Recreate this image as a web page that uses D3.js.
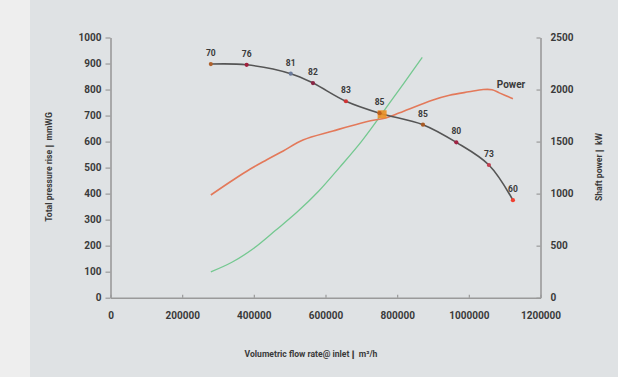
<!DOCTYPE html>
<html>
<head>
<meta charset="utf-8">
<script src="https://cdn.jsdelivr.net/npm/d3@7/dist/d3.min.js"></script>
<style>
  html, body { margin: 0; padding: 0; background: #eeeeee; }
  svg { display: block; }
  text { font-family: Roboto, "DejaVu Sans", sans-serif; fill: #3a3a3a; }
</style>
</head>
<body>
<svg id="chart" width="618" height="377"></svg>
<script>
// Fan performance: total pressure rise vs flow, with efficiency labels,
// shaft power on the secondary axis and a system resistance curve.

// Pressure curve operating points (m³/h, mmWG) with efficiency (%)
const pressureFlow = [280000, 380000, 503000, 565000, 657000, 751000, 872000, 965000, 1056000, 1123000];
const pressureVals = [898, 895, 861, 825, 755, 709, 665, 597, 510, 375];
const efficiency   = ["70", "76", "81", "82", "83", "85", "85", "80", "73", "60"];
const pointColors  = ["#b0622c", "#a0203c", "#6c7c9c", "#8a2444", "#d03434", "#c0601c", "#a85a24", "#a02444", "#c24050", "#f04030"];

// Shaft power curve (m³/h, kW)
const powerFlow = [280000, 342000, 389000, 435000, 482000, 537000, 621000, 714000, 770000, 807000, 900000, 946000, 1000000, 1040000, 1065000, 1085000, 1123000];
const powerVals = [987, 1131, 1234, 1323, 1410, 1515, 1602, 1691, 1729, 1777, 1900, 1945, 1978, 2000, 1998, 1968, 1912];

// System resistance curve (m³/h, mmWG)
const systemFlow = [280000, 340000, 400000, 460000, 520000, 580000, 640000, 700000, 760000, 820000, 870000];
const systemVals = [99, 137, 190, 258, 328, 408, 502, 600, 712, 827, 924];

// Axis ticks
const xTicks = [0, 200000, 400000, 600000, 800000, 1000000, 1200000];
const yLeftTicks = [0, 100, 200, 300, 400, 500, 600, 700, 800, 900, 1000];
const yRightTicks = [0, 500, 1000, 1500, 2000, 2500];

// Duty point (highlighted)
const dutyFlow = [758000];
const dutyPressure = [705];

const svg = d3.select("#chart");

// Panel backgrounds
svg.append("rect").attr("x", 0).attr("y", 0).attr("width", 618).attr("height", 377).attr("fill", "#eeeeee");
svg.append("rect").attr("x", 30).attr("y", 0).attr("width", 588).attr("height", 377).attr("fill", "#dfe2e4");

const x = d3.scaleLinear().domain([0, 1200000]).range([110.5, 540.5]);
const yL = d3.scaleLinear().domain([0, 1000]).range([297.7, 37.5]);
const yR = d3.scaleLinear().domain([0, 2500]).range([297.7, 37.5]);

const axisColor = "#9a9a9a";
function styleAxis(g) {
  g.selectAll(".domain").attr("stroke", axisColor).attr("stroke-width", 1.6);
  g.selectAll(".tick line").attr("stroke", axisColor).attr("stroke-width", 1.2);
  g.selectAll(".tick text").attr("fill", "#3a3a3a").attr("font-size", 10).attr("font-weight", 700)
    .attr("font-family", "Roboto, 'DejaVu Sans', sans-serif");
}

svg.append("g").attr("transform", `translate(0,${yL(0)})`)
  .call(d3.axisBottom(x).tickValues(xTicks).tickFormat(d3.format("d")).tickSizeInner(-3).tickSizeOuter(0).tickPadding(14))
  .call(styleAxis);

svg.append("g").attr("transform", `translate(${x(0)},0)`)
  .call(d3.axisLeft(yL).tickValues(yLeftTicks).tickFormat(d3.format("d")).tickSizeInner(5).tickSizeOuter(0).tickPadding(4))
  .call(styleAxis);

svg.append("g").attr("transform", `translate(${x(1200000)},0)`)
  .call(d3.axisRight(yR).tickValues(yRightTicks).tickFormat(d3.format("d")).tickSizeInner(-4).tickSizeOuter(0).tickPadding(10))
  .call(styleAxis);

// Axis titles
svg.append("text").attr("x", 311).attr("y", 357).attr("text-anchor", "middle")
  .attr("font-size", 8.6).attr("font-weight", 700)
  .text("Volumetric flow rate@ inlet\u2759 m³/h");
svg.append("text").attr("transform", "translate(52,167) rotate(-90)").attr("text-anchor", "middle")
  .attr("font-size", 8.6).attr("font-weight", 700)
  .text("Total pressure rise\u2759 mmWG");
svg.append("text").attr("transform", "translate(602,167) rotate(-90)").attr("text-anchor", "middle")
  .attr("font-size", 8.6).attr("font-weight", 700)
  .text("Shaft power\u2759 kW");

// System curve
const sysData = systemFlow.map((f, i) => [f, systemVals[i]]);
svg.append("path").datum(sysData)
  .attr("fill", "none").attr("stroke", "#74c890").attr("stroke-width", 1.3)
  .attr("d", d3.line().x(d => x(d[0])).y(d => yL(d[1])).curve(d3.curveCatmullRom.alpha(0.5)));

// Power curve
const powData = powerFlow.map((f, i) => [f, powerVals[i]]);
svg.append("path").datum(powData)
  .attr("fill", "none").attr("stroke", "#e3795a").attr("stroke-width", 1.6)
  .attr("d", d3.line().x(d => x(d[0])).y(d => yR(d[1])).curve(d3.curveCatmullRom.alpha(0.5)));

svg.append("text").attr("x", x(1067000) + 4).attr("y", 88).attr("font-size", 10).attr("font-weight", 700)
  .attr("fill", "#333").text("Power");

// Pressure curve
const presData = pressureFlow.map((f, i) => ({ f, p: pressureVals[i], e: efficiency[i], c: pointColors[i] }));
svg.append("path").datum(presData)
  .attr("fill", "none").attr("stroke", "#555").attr("stroke-width", 1.6)
  .attr("d", d3.line().x(d => x(d.f)).y(d => yL(d.p)).curve(d3.curveCatmullRom.alpha(0.5)));

// Duty point marker
svg.selectAll("rect.duty").data(dutyFlow).enter().append("rect").attr("class", "duty")
  .attr("x", (d, i) => x(d) - 4.5).attr("y", (d, i) => yL(dutyPressure[i]) - 4)
  .attr("width", 9).attr("height", 8).attr("fill", "#ec8f24").attr("opacity", 0.9);

svg.selectAll("circle.pt").data(presData).enter().append("circle").attr("class", "pt")
  .attr("cx", d => x(d.f)).attr("cy", d => yL(d.p)).attr("r", 2.1).attr("fill", d => d.c);

svg.selectAll("text.eff").data(presData).enter().append("text").attr("class", "eff")
  .attr("x", d => x(d.f)).attr("y", d => yL(d.p) - 8).attr("text-anchor", "middle")
  .attr("font-size", 8.5).attr("font-weight", 700).attr("fill", "#333")
  .text(d => d.e);
</script>
</body>
</html>
